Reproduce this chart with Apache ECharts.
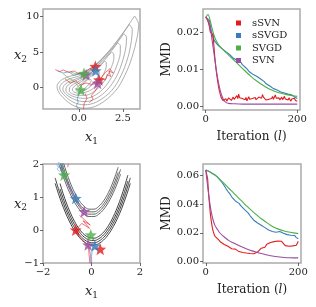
<!DOCTYPE html>
<html><head><meta charset="utf-8">
<script src="https://cdn.jsdelivr.net/npm/echarts@6/dist/echarts.min.js"></script>
<style>html,body{margin:0;padding:0;background:#fff}#c{width:316px;height:307px}</style>
</head><body><div id="c"></div><script>
const FONT = 'DejaVu Serif';
const COL = {sSVN:'#e41a1c', sSVGD:'#377eb8', SVGD:'#4daf4a', SVN:'#984ea3'};
const methods = ['sSVN','sSVGD','SVGD','SVN'];

// ---------- tick values ----------
const tlXTicks = [0, 2.5], tlYTicks = [0, 5, 10];
const trXTicks = [0, 200], trYTicks = [0, 0.01, 0.02];
const blXTicks = [-2, 0, 2], blYTicks = [-1, 0, 1, 2];
const brXTicks = [0, 200], brYTicks = [0, 0.02, 0.04, 0.06];

// ---------- iterations ----------
const iterStep2 = [0,2,4,6,8,10,12,14,16,18,20,22,24,26,28,30,32,34,36,38,40,42,44,46,48,50,52,54,56,58,60,62,64,66,68,70,72,74,76,78,80,82,84,86,88,90,92,94,96,98,100,102,104,106,108,110,112,114,116,118,120,122,124,126,128,130,132,134,136,138,140,142,144,146,148,150,152,154,156,158,160,162,164,166,168,170,172,174,176,178,180,182,184,186,188,190,192,194,196,198,200];
const iterStep4 = [0,4,8,12,16,20,24,28,32,36,40,44,48,52,56,60,64,68,72,76,80,84,88,92,96,100,104,108,112,116,120,124,128,132,136,140,144,148,152,156,160,164,168,172,176,180,184,188,192,196,200];
const iterSmooth = [0,5,10,15,20,25,30,40,50,60,70,80,90,100,110,120,130,140,150,160,170,180,190,200];

// ---------- top-right MMD ----------
const trRed = [0.0242,0.0238,0.0232,0.0225,0.0215,0.0200,0.0198,0.0195,0.0193,0.0160,
0.0130,0.0105,0.0085,0.0068,0.0052,0.0040,0.0030,0.0022,0.0018,0.0014,
0.0012,0.0016,0.0020,0.0013,0.0018,0.0022,0.0017,0.0021,0.0015,0.0019,
0.0024,0.0018,0.0022,0.0016,0.0028,0.0020,0.0032,0.0022,0.0018,0.0026,
0.0020,0.0015,0.0021,0.0017,0.0023,0.0014,0.0019,0.0025,0.0018,0.0022,
0.0016,0.0020,0.0015,0.0019,0.0023,0.0017,0.0021,0.0018,0.0024,0.0020,
0.0026,0.0021,0.0031,0.0024,0.0019,0.0023,0.0016,0.0021,0.0014,0.0018,
0.0022,0.0015,0.0020,0.0026,0.0018,0.0023,0.0030,0.0021,0.0025,0.0018,
0.0022,0.0016,0.0020,0.0024,0.0017,0.0021,0.0026,0.0019,0.0014,0.0020,
0.0016,0.0022,0.0018,0.0013,0.0019,0.0024,0.0017,0.0021,0.0015,0.0019,
0.0013];
const trBlue = [0.0240,0.0243,0.0232,0.0205,0.0185,0.0175,0.0170,0.0163,0.0160,0.0155,
0.0151,0.0147,0.0143,0.0140,0.0142,0.0130,0.0128,0.0124,0.0122,0.0120,
0.0112,0.0108,0.0103,0.0098,0.0092,0.0088,0.0085,0.0087,0.0080,0.0076,
0.0073,0.0070,0.0066,0.0060,0.0058,0.0054,0.0050,0.0047,0.0048,0.0043,
0.0040,0.0038,0.0039,0.0035,0.0033,0.0032,0.0028,0.0030,0.0025,0.0023,
0.0020];
const trGreen = [0.0240,0.0248,0.0230,0.0205,0.0185,0.0172,0.0163,0.0150,0.0138,0.0126,0.0114,0.0102,0.0090,0.0079,0.0069,0.0060,0.0052,0.0045,0.0040,0.0036,0.0033,0.0030,0.0028,0.0026];
const trPurpleIter = [0,4,8,12,16,20,24,28,32,36,40,45,50,60,80,100,150,200];
const trPurple = [0.0240,0.0235,0.0222,0.0195,0.0160,0.0125,0.0090,0.0062,0.0040,0.0025,0.0015,0.0009,0.0007,0.0006,0.0005,0.0005,0.0005,0.0005];

// ---------- bottom-right MMD ----------
const brRedIter = [0,2,4,6,8,10,12,14,16,18,20,24,28,32,36,40,44,48,52,56,60,64,68,72,76,80,84,88,92,96,100,104,108,112,116,120,124,128,132,136,140,144,148,152,156,160,164,168,172,176,180,184,188,192,196,198,200];
const brRed = [0.064,0.065,0.058,0.048,0.040,0.033,0.028,0.024,0.021,0.019,0.0175,
0.0165,0.0150,0.0135,0.0128,0.0118,0.0112,0.0105,0.0098,0.0088,0.0078,
0.0085,0.0072,0.0068,0.0075,0.0062,0.0060,0.0058,0.0063,0.0055,0.0057,
0.0053,0.0060,0.0065,0.0068,0.0092,0.0105,0.0098,0.0120,0.0118,0.0132,
0.0145,0.0138,0.0150,0.0142,0.0135,0.0140,0.0128,0.0110,0.0118,0.0105,
0.0112,0.0108,0.0115,0.0112,0.0125,0.0140];
const brBlue = [0.0640,0.0636,0.0628,0.0620,0.0612,0.0604,0.0595,0.0581,0.0566,0.0549,
0.0530,0.0508,0.0489,0.0474,0.0452,0.0441,0.0423,0.0409,0.0406,0.0388,
0.0384,0.0362,0.0352,0.0338,0.0319,0.0306,0.0288,0.0281,0.0268,0.0262,
0.0252,0.0241,0.0236,0.0228,0.0219,0.0216,0.0209,0.0207,0.0204,0.0206,
0.0209,0.0201,0.0196,0.0193,0.0187,0.0191,0.0183,0.0176,0.0181,0.0166,
0.0158];
const brGreen = [0.064,0.0635,0.0625,0.0615,0.0605,0.059,0.0575,0.0545,0.0512,0.048,0.0447,0.0415,0.0383,0.0353,0.0325,0.0298,0.0275,0.0253,0.0235,0.0222,0.0212,0.0205,0.0199,0.0194];
const brPurple = [0.064,0.050,0.038,0.030,0.025,0.0225,0.020,0.017,0.0145,0.0128,0.0112,0.0098,0.0085,0.0073,0.0063,0.0054,0.0046,0.0039,0.0034,0.0030,0.0027,0.0025,0.0024,0.0024];

// ---------- top-left: banana contours (x1, x2) ----------
const tlContours = [
 [[3.16,10.1],[2.44,7.5],[1.69,5.1],[0.93,3.2],[0.17,2.0],[-0.59,1.5],[-1.06,0.9],[-1.25,0.1],[-1.06,-1.05],[-0.4,-2.5],[0.3,-3.0],[1.12,-2.5],[2.06,-0.57],[2.63,1.8],[3.01,4.2],[3.3,7.0],[3.39,8.9],[3.16,10.1]],
 [[2.86,8.9],[2.2,6.6],[1.5,4.5],[0.8,2.8],[0.1,1.7],[-0.5,1.2],[-0.95,0.6],[-1.1,-0.1],[-0.9,-1.0],[-0.35,-2.1],[0.3,-2.5],[1.0,-2.1],[1.85,-0.5],[2.4,1.7],[2.78,4.2],[2.98,6.6],[3.03,8.2],[2.86,8.9]],
 [[2.55,7.6],[1.95,5.6],[1.3,3.9],[0.65,2.4],[0.05,1.4],[-0.45,0.9],[-0.82,0.35],[-0.92,-0.25],[-0.75,-1.0],[-0.25,-1.75],[0.3,-2.05],[0.9,-1.7],[1.6,-0.4],[2.15,1.6],[2.5,3.9],[2.68,5.9],[2.7,7.1],[2.55,7.6]],
 [[2.2,6.3],[1.7,4.7],[1.1,3.2],[0.5,2.0],[0.0,1.15],[-0.4,0.65],[-0.68,0.15],[-0.75,-0.4],[-0.58,-1.0],[-0.15,-1.45],[0.3,-1.6],[0.8,-1.3],[1.35,-0.3],[1.85,1.4],[2.2,3.4],[2.35,5.0],[2.35,5.9],[2.2,6.3]],
 [[1.85,5.0],[1.4,3.7],[0.9,2.5],[0.4,1.5],[0.0,0.85],[-0.32,0.4],[-0.53,-0.05],[-0.55,-0.55],[-0.38,-0.95],[-0.05,-1.15],[0.35,-1.15],[0.75,-0.8],[1.15,0.0],[1.55,1.3],[1.85,2.9],[1.98,4.1],[1.98,4.7],[1.85,5.0]],
 [[1.45,3.7],[1.1,2.7],[0.7,1.8],[0.3,1.05],[-0.05,0.5],[-0.3,0.05],[-0.38,-0.4],[-0.25,-0.75],[0.05,-0.85],[0.4,-0.7],[0.75,-0.3],[1.1,0.6],[1.4,1.9],[1.55,3.0],[1.55,3.5],[1.45,3.7]],
 [[1.05,2.4],[0.75,1.7],[0.4,1.0],[0.1,0.4],[-0.12,-0.05],[-0.18,-0.4],[-0.05,-0.6],[0.2,-0.55],[0.5,-0.2],[0.8,0.5],[1.05,1.4],[1.15,2.1],[1.05,2.4]],
 [[0.55,1.2],[0.3,0.6],[0.08,0.1],[0.0,-0.25],[0.15,-0.35],[0.35,-0.1],[0.6,0.5],[0.7,1.0],[0.55,1.2]]
];
const tlTrails = {
 sSVN: [
  [[-1.35,2.5],[-1.1,2.2],[-0.9,2.45],[-0.6,2.1],[-0.3,2.3],[0.0,1.9],[0.3,2.1],[0.6,2.6],[0.93,2.94]],
  [[-0.8,1.2],[-0.5,0.6],[-0.2,0.9],[0.1,0.3],[0.4,0.6],[0.7,0.4],[1.0,0.9],[1.3,1.3],[1.5,1.0],[1.6,1.8],[1.8,1.5],[1.7,2.3],[1.95,2.0],[1.75,2.6],[1.5,2.1],[1.35,1.6],[1.14,1.04]],
  [[0.35,-0.9],[0.45,-1.6],[0.3,-2.3],[0.25,-3.1]],
  [[0.6,-2.2],[0.8,-1.7],[0.7,-1.2],[0.9,-0.6],[1.1,0.2]]
 ],
 sSVGD: [
  [[-1.2,2.3],[-0.9,2.0],[-0.6,2.2],[-0.3,1.7],[0.0,1.9],[0.3,1.6],[0.6,2.0],[0.95,2.33]],
  [[0.1,-0.4],[0.0,-1.0],[-0.1,-1.6],[-0.05,-2.2],[-0.15,-2.6],[-0.05,-3.1]]
 ],
 SVGD: [
  [[-0.9,1.9],[-0.6,1.3],[-0.3,0.9],[-0.1,0.3],[0.11,-0.39]],
  [[-0.5,2.2],[-0.2,1.9],[0.1,2.0],[0.28,1.95]]
 ],
 SVN: [
  [[0.1,1.5],[0.25,1.9],[0.4,1.76]],
  [[0.6,0.2],[0.8,0.4],[1.06,0.57]]
 ]
};
const tlStars = {
 sSVN: [[0.93,2.94],[1.14,1.04]],
 SVGD: [[0.11,-0.39],[0.28,1.95]],
 SVN: [[0.40,1.76],[1.06,0.57]],
 sSVGD: [[0.95,2.33]]
};

// ---------- bottom-left: double banana contour lines (x1, x2) ----------
const blContours = [
 [[-1.3,1.921],[-1.1,1.489],[-0.9,1.129],[-0.7,0.841],[-0.5,0.625],[-0.3,0.481],[-0.1,0.409],[0.1,0.409],[0.3,0.481],[0.5,0.625],[0.7,0.841],[0.9,1.129],[1.1,1.489],[1.2,1.696]],
 [[-1.3,2.076],[-1.1,1.620],[-0.9,1.240],[-0.7,0.936],[-0.5,0.708],[-0.3,0.556],[-0.1,0.480],[0.1,0.480],[0.3,0.556],[0.5,0.708],[0.7,0.936],[0.9,1.240],[1.1,1.620],[1.2,1.838]],
 [[-1.3,2.23],[-1.1,1.75],[-0.9,1.35],[-0.7,1.03],[-0.5,0.79],[-0.3,0.63],[-0.1,0.55],[0.1,0.55],[0.3,0.63],[0.5,0.79],[0.7,1.03],[0.9,1.35],[1.1,1.75]],
 [[-1.3,2.411],[-1.1,1.903],[-0.9,1.479],[-0.7,1.139],[-0.5,0.885],[-0.3,0.715],[-0.1,0.631],[0.1,0.631],[0.3,0.715],[0.5,0.885],[0.7,1.139],[0.9,1.479],[1.1,1.903]],
 [[-1.5,1.414],[-1.3,0.962],[-1.1,0.572],[-0.9,0.244],[-0.7,-0.021],[-0.5,-0.224],[-0.3,-0.364],[-0.1,-0.442],[0.1,-0.458],[0.3,-0.411],[0.5,-0.302],[0.7,-0.130],[0.9,0.104],[1.1,0.400],[1.3,0.759],[1.5,1.180],[1.6,1.414]],
 [[-1.5,1.580],[-1.3,1.104],[-1.1,0.694],[-0.9,0.350],[-0.7,0.071],[-0.5,-0.142],[-0.3,-0.290],[-0.1,-0.372],[0.1,-0.388],[0.3,-0.339],[0.5,-0.224],[0.7,-0.044],[0.9,0.202],[1.1,0.514],[1.3,0.891],[1.5,1.334],[1.6,1.580]],
 [[-1.3,1.247],[-1.1,0.817],[-0.9,0.456],[-0.7,0.164],[-0.5,-0.060],[-0.3,-0.215],[-0.1,-0.301],[0.1,-0.318],[0.3,-0.266],[0.5,-0.146],[0.7,0.043],[0.9,0.301],[1.1,0.628],[1.3,1.024],[1.5,1.488]],
 [[-1.3,1.408],[-1.1,0.953],[-0.9,0.571],[-0.7,0.262],[-0.5,0.025],[-0.3,-0.139],[-0.1,-0.230],[0.1,-0.248],[0.3,-0.193],[0.5,-0.066],[0.7,0.134],[0.9,0.407],[1.1,0.753],[1.3,1.172],[1.5,1.663]]
];
const blTrails = {
 sSVN: [
  [[-0.95,2.05],[-0.98,1.9]],
  [[-0.5,0.45],[-0.05,0.15],[-0.35,0.28],[-0.08,0.05],[-0.4,0.2],[-0.65,0.0]],
  [[-0.65,0.0],[-0.5,-0.2],[-0.3,-0.35],[-0.12,-0.55],[-0.1,-0.75],[-0.06,-1.05]]
 ],
 sSVGD: [
  [[-1.38,2.05],[-1.3,1.9],[-1.22,1.78],[-1.1,1.6],[-0.95,1.38],[-0.85,1.25],[-0.75,1.1],[-0.65,0.96]],
  [[0.14,-0.48],[0.03,-0.6],[0.0,-0.8],[0.01,-1.05]]
 ],
 SVGD: [
  [[-1.22,2.05],[-1.18,1.85],[-1.13,1.67]]
 ],
 SVN: [
  [[-1.3,2.05],[-1.1,1.65],[-0.9,1.3],[-0.7,1.0],[-0.5,0.75],[-0.3,0.56]],
  [[-0.14,-0.45],[-0.05,-0.7],[-0.02,-1.05]]
 ]
};
const blInit = [[-1.35,1.98],[-1.28,1.92],[-1.32,1.85],[-1.22,1.95],[-1.18,1.8]];
const blStars = {
 sSVN: [[-0.65,0.0],[0.36,-0.58]],
 SVGD: [[-1.13,1.67],[-0.03,-0.15]],
 sSVGD: [[-0.65,0.96],[0.14,-0.48]],
 SVN: [[-0.30,0.56],[-0.14,-0.45]]
};

// ---------- build ----------
const STAR = 'path://M12,1 L14.9,8.6 L23,8.9 L16.7,14 L18.9,21.8 L12,17.3 L5.1,21.8 L7.3,14 L1,8.9 L9.1,8.6 Z';
const pairs = (xs, ys) => xs.map((x, i) => [x, ys[i]]);
const minus = s => String(s).replace('-', '\u2212');
const rich = {
  i: {fontFamily: FONT, fontStyle: 'italic', fontSize: 13, color: '#222'},
  s: {fontFamily: FONT, fontSize: 9, color: '#222', padding: [7, 0, 0, 0]},
  t: {fontFamily: FONT, fontSize: 12, color: '#222'},
  li: {fontFamily: FONT, fontStyle: 'italic', fontSize: 12, color: '#222'}
};
function ax(gi, min, max, ticks, dec, name, nameGap, rot, namePad) {
  const a = {
    type: 'value', gridIndex: gi, min: min, max: max,
    splitLine: {show: false}, axisLine: {show: false, onZero: false},
    axisTick: {show: true, customValues: ticks, length: 3, lineStyle: {color: '#444', width: 0.8}},
    axisLabel: {customValues: ticks, margin: 4, fontFamily: FONT, fontSize: 10, color: '#222',
      formatter: v => minus(Number(v).toFixed(dec))},
    name: name, nameLocation: 'middle', nameGap: nameGap,
    nameTextStyle: {fontFamily: FONT, fontSize: 12, color: '#222', rich: rich}
  };
  if (rot !== undefined) a.nameRotate = rot;
  if (namePad) { a.nameTextStyle.padding = namePad; a.nameMoveOverlap = false; }
  return a;
}
const grids = [
  {left: 43, top: 9, width: 97, height: 100},
  {left: 203, top: 9, width: 97, height: 101},
  {left: 43, top: 164, width: 97, height: 99},
  {left: 203, top: 164, width: 98, height: 99}
].map(g => Object.assign(g, {show: true, borderColor: '#ababab', borderWidth: 1.5, backgroundColor: 'transparent'}));

const xAxes = [
  ax(0, -2.05, 3.47, tlXTicks, 1, '{i|x}{s|1}', 21),
  ax(1, -6, 206, trXTicks, 0, '{t|Iteration (}{li|l}{t|)}', 21),
  ax(2, -2, 2, blXTicks, 0, '{i|x}{s|1}', 21),
  ax(3, -6, 206, brXTicks, 0, '{t|Iteration (}{li|l}{t|)}', 21)
];
const yAxes = [
  ax(0, -3.1, 11.1, tlYTicks, 0, '{i|x}{s|2}', 16, 0, [0, 0, 6, 0]),
  ax(1, -0.0011, 0.0263, trYTicks, 2, 'MMD', 30, 90),
  ax(2, -1, 2, blYTicks, 0, '{i|x}{s|2}', 16, 0, [0, 0, 18, 0]),
  ax(3, -0.0012, 0.0682, brYTicks, 2, 'MMD', 30, 90)
];

const series = [];
function line(gi, data, color, width, extra) {
  series.push(Object.assign({
    type: 'line', xAxisIndex: gi, yAxisIndex: gi, data: data, showSymbol: false, symbol: 'none',
    silent: true, animation: false, clip: true,
    lineStyle: {color: color, width: width}, itemStyle: {color: color}
  }, extra || {}));
}
// TL contours
tlContours.forEach(c => line(0, c, '#9a9a9a', 0.8, {smooth: 0.35}));
// BL contours
blContours.forEach((c, k) => line(2, c, k < 4 ? '#555' : '#2a2a2a', 0.9, {smooth: 0.4}));
// trails
['SVGD','sSVGD','SVN','sSVN'].forEach(m => {
  tlTrails[m].forEach(t => line(0, t, COL[m], 0.7, {lineStyle: {color: COL[m], width: 0.7, opacity: 0.85}}));
  blTrails[m].forEach(t => line(2, t, COL[m], 0.7, {lineStyle: {color: COL[m], width: 0.7, opacity: 0.85}}));
});
series.push({type: 'scatter', xAxisIndex: 2, yAxisIndex: 2, data: blInit, symbol: 'diamond', symbolSize: 5,
  silent: true, animation: false, itemStyle: {color: 'rgba(0,0,0,0)', borderColor: '#8fbde0', borderWidth: 1}});
// stars
['sSVN','sSVGD','SVN','SVGD'].forEach(m => {
  [[0, tlStars], [2, blStars]].forEach(([gi, st]) => {
    if (!st[m]) return;
    series.push({type: 'scatter', xAxisIndex: gi, yAxisIndex: gi, data: st[m], symbol: STAR, symbolSize: 12,
      silent: true, animation: false, z: 5, itemStyle: {color: COL[m]}});
  });
});
// MMD curves
const mmd = {
  1: {sSVN: pairs(iterStep2, trRed), sSVGD: pairs(iterStep4, trBlue), SVGD: pairs(iterSmooth, trGreen), SVN: pairs(trPurpleIter, trPurple)},
  3: {sSVN: pairs(brRedIter, brRed), sSVGD: pairs(iterStep4, brBlue), SVGD: pairs(iterSmooth, brGreen), SVN: pairs(iterSmooth, brPurple)}
};
[1, 3].forEach(gi => {
  ['sSVGD','SVGD','sSVN','SVN'].forEach(m => {
    const smooth = (m === 'SVGD' || m === 'SVN') ? 0.3 : false;
    line(gi, mmd[gi][m], COL[m], 1.1, {name: m, smooth: smooth});
  });
});

const chart = echarts.init(document.getElementById('c'), null, {renderer: 'canvas'});
chart.setOption({
  animation: false,
  grid: grids, xAxis: xAxes, yAxis: yAxes, series: series,
  legend: {data: methods, orient: 'vertical', left: 236, top: 18, padding: 0, itemGap: 2.5,
    itemWidth: 5, itemHeight: 5, icon: 'rect', selectedMode: false,
    textStyle: {fontFamily: FONT, fontSize: 10, color: '#222', padding: [0, 0, 0, 6]}}
});
</script></body></html>
